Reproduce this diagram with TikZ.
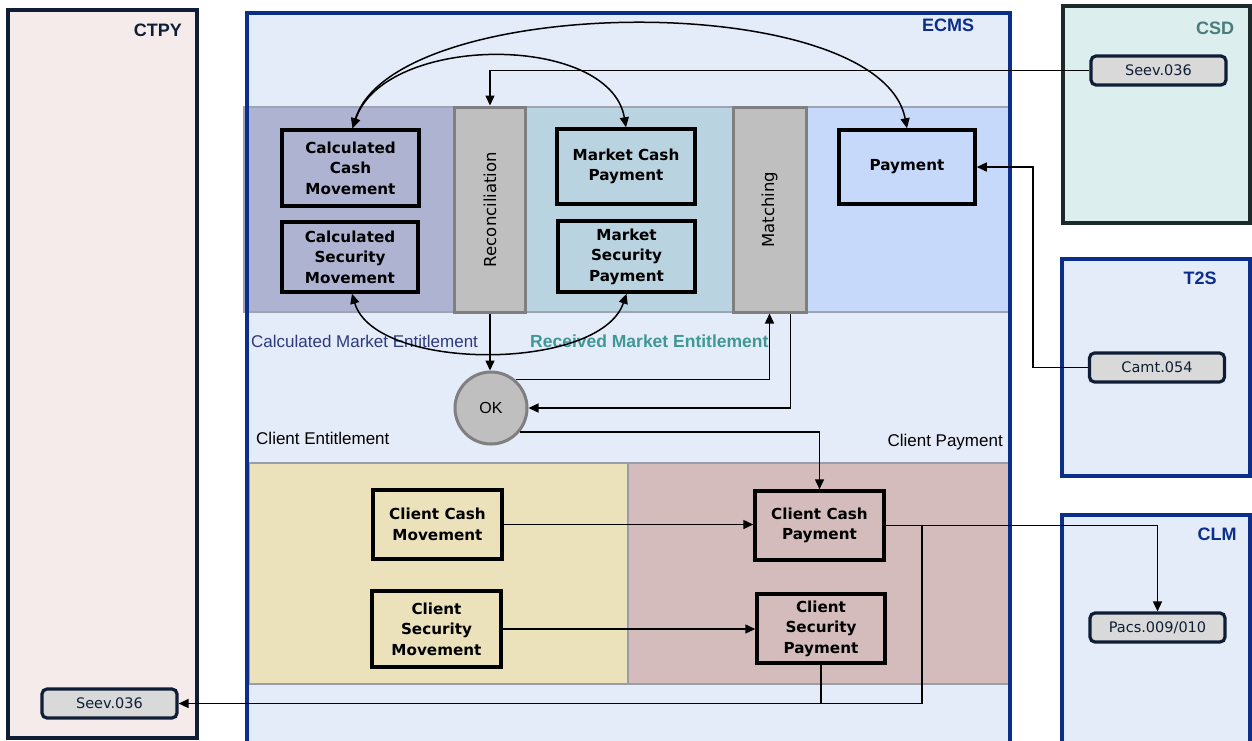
\documentclass[tikz,border=0pt]{standalone}
\usepackage{fontspec}
\setmainfont{Liberation Sans}
\newfontfamily\dvs{DejaVu Sans}
\usetikzlibrary{arrows.meta,calc}
\definecolor{ctpyfill}{HTML}{F6EBEB}
\definecolor{darkline}{HTML}{0F1E36}
\definecolor{ecmsfill}{HTML}{E4EBF9}
\definecolor{ecmsline}{HTML}{0A2E8A}
\definecolor{csdfill}{HTML}{DDEEEE}
\definecolor{csdline}{HTML}{1C2A2C}
\definecolor{csdtext}{HTML}{4A7C7C}
\definecolor{calcfill}{HTML}{ADB3D1}
\definecolor{mktfill}{HTML}{B9D3E0}
\definecolor{payfill}{HTML}{C6D9FA}
\definecolor{barfill}{HTML}{BFBFBF}
\definecolor{barline}{HTML}{7F7F7F}
\definecolor{bandline}{HTML}{9EA4B4}
\definecolor{entfill}{HTML}{EBE1BA}
\definecolor{cpayfill}{HTML}{D4BCBC}
\definecolor{msgfill}{HTML}{D9D9D9}
\definecolor{calclabel}{HTML}{2E3A7C}
\definecolor{rcvlabel}{HTML}{3E9896}
\tikzset{
  proc/.style={draw=black, line width=3.5pt, align=center, inner sep=0pt,
    font=\dvs\bfseries\fontsize{15.2}{20.5}\selectfont},
  msg/.style={draw=darkline, line width=3.2pt, fill=msgfill, rounded corners=5pt,
    minimum width=135pt, minimum height=29pt, inner sep=0pt,
    font=\dvs\fontsize{14.5}{17}\selectfont, text=darkline},
  bar/.style={draw=barline, line width=3pt, fill=barfill, rotate=90,
    minimum width=205pt, minimum height=71pt, inner sep=0pt,
    font=\dvs\fontsize{16.5}{18}\selectfont},
  hdr/.style={font=\bfseries\fontsize{18}{20}\selectfont, inner sep=0pt},
  lbl/.style={font=\fontsize{17}{19}\selectfont, inner sep=0pt},
  conn/.style={line width=1.5pt, draw=black},
  arr/.style={conn, -{Triangle[length=10pt,width=9pt]}},
  arr2/.style={conn, {Triangle[length=10pt,width=9pt]}-{Triangle[length=10pt,width=9pt]}},
}
\begin{document}
\begin{tikzpicture}[x=1pt,y=-1pt]
\useasboundingbox (0,0) rectangle (1252,740);
\clip (0,0) rectangle (1252,740);
% CTPY
\draw[fill=ctpyfill, draw=darkline, line width=3.5pt] (8,10) rectangle (197,738);
\node[hdr, text=darkline] (ctpyh) at (158,30) {CTPY};
% ECMS
\draw[fill=ecmsfill, draw=ecmsline, line width=3.2pt] (247,13) rectangle (1010,760);
\node[hdr, text=ecmsline] (ecmsh) at (948,25) {ECMS};
% top band
\fill[calcfill] (244,107) rectangle (455,312);
\fill[mktfill] (525,107) rectangle (733,312);
\fill[payfill] (806,107) rectangle (1010,312);
\draw[bandline, line width=2.5pt] (244,107) rectangle (1010,312);
\node[bar] (rec) at (490,209.5) {Reconciliation};
\node[bar, minimum height=73pt] (mat) at (769.5,209.5) {Matching};
% bottom band
\draw[fill=entfill, draw=bandline!80!gray, line width=2.5pt] (249,463) rectangle (628,684);
\draw[fill=cpayfill, draw=bandline!80!gray, line width=2.5pt] (628,463) rectangle (1010,684);
\draw[ecmsline, line width=3.2pt] (247,13) -- (247,760);
\draw[ecmsline, line width=3.2pt] (1010,13) -- (1010,760);
% CSD
\draw[fill=csdfill, draw=csdline, line width=3.5pt] (1063,6) rectangle (1250,223);
\node[hdr, text=csdtext] (csdh) at (1215,28) {CSD};
% T2S
\draw[fill=ecmsfill, draw=ecmsline, line width=3.2pt] (1062,259) rectangle (1250,476);
\node[hdr, text=ecmsline] (t2sh) at (1200,278) {T2S};
% CLM
\draw[fill=ecmsfill, draw=ecmsline, line width=3.2pt] (1062,515) rectangle (1250,760);
\node[hdr, text=ecmsline] (clmh) at (1217,534) {CLM};

% process boxes
\node[proc, minimum width=137pt, minimum height=76pt] (ccm) at (350.5,168) {Calculated\\Cash\\Movement};
\node[proc, minimum width=136pt, minimum height=70pt] (csm) at (350,257) {Calculated\\Security\\Movement};
\node[proc, minimum width=138pt, minimum height=75pt] (mcp) at (626,166.5) {Market Cash\\Payment};
\node[proc, minimum width=137pt, minimum height=71pt] (msp) at (626.5,256.5) {Market\\Security\\Payment};
\node[proc, minimum width=136pt, minimum height=74pt] (pay) at (907,167) {Payment};
\node[proc, minimum width=129pt, minimum height=69pt] (ccmv) at (437.5,524.5) {Client Cash\\Movement};
\node[proc, minimum width=129pt, minimum height=76pt] (csmv) at (436.5,629) {Client\\Security\\Movement};
\node[proc, minimum width=129pt, minimum height=69pt] (ccp) at (819.5,525.5) {Client Cash\\Payment};
\node[proc, minimum width=128pt, minimum height=69pt] (csp) at (821,628.5) {Client\\Security\\Payment};

% OK
\node[circle, draw=barline, fill=barfill, line width=3pt, minimum size=72pt, inner sep=0pt,
  font=\fontsize{16}{18}\selectfont] (ok) at (491,408) {OK};

% messages
\node[msg] (seevcsd) at (1158.5,70.5) {Seev.036};
\node[msg] (camt) at (1157,367.5) {Camt.054};
\node[msg] (pacs) at (1157.5,627.5) {Pacs.009/010};
\node[msg] (seevctpy) at (109.5,703.5) {Seev.036};

% labels
\node[lbl, text=calclabel, anchor=west] (calcl) at (251,341) {Calculated Market Entitlement};
\node[lbl, text=rcvlabel, anchor=west, font=\bfseries\fontsize{17.5}{19}\selectfont] (rcvl) at (530,341) {Received Market Entitlement};
\node[lbl, anchor=west] (centl) at (256,438) {Client Entitlement};
\node[lbl, anchor=east] (cpayl) at (1003,442) {Client Payment};

% curves
\draw[arr2] ($(ccm.north)+(2,0)$) .. controls (395,-8) and (880,-12) .. (pay.north);
\draw[arr2] ($(ccm.north)+(2,0)$) .. controls (385,33) and (610,33) .. (mcp.north);
\draw[arr2] ($(csm.south)+(2,0)$) .. controls (375,372) and (600,372) .. (msp.south);

% connectors
\draw[arr] (seevcsd.west) -| (rec.east);
\draw[arr] (rec.west) -- (rec.west |- ok.north);
\draw[arr] (ok.49) -| (mat.west);
\coordinate (matout) at ($(mat.west)!0.55!(mat.south west)$);
\draw[arr] (matout) |- (ok.east);
\draw[arr] (ok.-40) -| (ccp.north);
\draw[arr] (ccmv.east) -- (ccmv.east -| ccp.west);
\draw[arr] (csmv.east) -- (csmv.east -| csp.west);
\draw[arr] (ccp.east) -| (pacs.north);
\coordinate (br) at ($(ccp.east)+(36,0)$);
\draw[arr] (csp.south) |- (seevctpy.east);
\draw[conn] (br) |- (csp.south |- seevctpy.east);
\coordinate (tj) at (1033,0);
\draw[arr] (camt.west) -| (tj |- pay.east) -- (pay.east);
\end{tikzpicture}
\end{document}
